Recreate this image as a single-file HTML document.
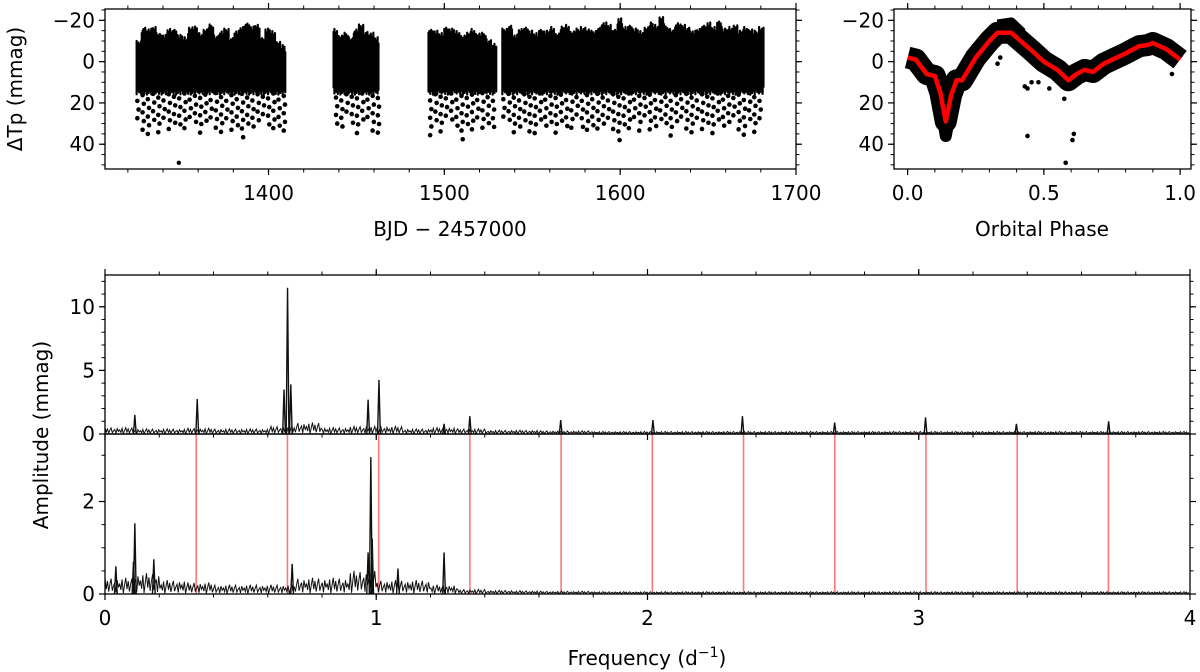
<!DOCTYPE html>
<html><head><meta charset="utf-8">
<style>
html,body{margin:0;padding:0;background:#fff;}
svg{display:block;font-family:"DejaVu Sans","Liberation Sans",sans-serif;}
</style></head>
<body>
<svg id="fig" width="1200" height="672" viewBox="0 0 1200 672" xmlns="http://www.w3.org/2000/svg"></svg>
<script>
// ---------- DATA ----------
const lcSegments = [[1325,1410],[1437,1463],[1491,1530],[1533,1682]];
const lcTops = [
 [-10,-17,-16,-17,-14,-13,-16,-16,-13,-12,-17,-17,-14,-16,-18,-13,-15,-16,-12,-15,-17,-19,-17,-18,-12,-16,-15,-10,-8],
 [-16,-13,-14,-12,-16,-18,-15,-14,-12],
 [-16,-15,-14,-17,-16,-15,-13,-14,-16,-14,-14,-11,-9],
 [-16,-18,-13,-16,-17,-15,-14,-16,-15,-17,-14,-17,-18,-15,-16,-17,-16,-15,-17,-19,-18,-16,-21,-17,-18,-16,-15,-17,-19,-18,-22,-17,-16,-19,-18,-17,-15,-16,-18,-19,-17,-20,-16,-17,-18,-15,-17,-16,-15,-17]
];
const lcBottom = [12,12,12,12];
const orbPeriod = 2.9735;
const eclipseDepth = [30,33,38,31,36,29,34,30,33,35,28,31,37,32,30,34,36,29,33,31,38,30,35,32,29,33,36,31,34,30];
const phaseX = [0,0.03,0.07,0.1,0.12,0.14,0.16,0.18,0.2,0.25,0.3,0.33,0.38,0.45,0.5,0.55,0.59,0.62,0.65,0.68,0.72,0.8,0.85,0.88,0.9,0.95,1.0];
const phaseY = [-2,-1,6,7,15,29,16,9,9,-2,-10,-14,-14,-6,0,4,9,6,4,5,1,-4,-7.5,-8,-9,-6,-1];
const phaseOutX = [0.34,0.33,0.43,0.44,0.455,0.48,0.52,0.575,0.44,0.58,0.605,0.61,0.97];
const phaseOutY = [-2,1,12,36,10,10,13,18,13,49,38,35,6];
const peakF1 = [0.11,0.34,0.66,0.673,0.685,0.97,1.01,1.25,1.345,1.68,2.02,2.35,2.69,3.025,3.36,3.70];
const peakA1 = [1.5,2.75,3.5,11.5,3.9,2.7,4.25,0.8,1.4,1.1,1.1,1.4,0.9,1.3,0.8,1.0];
const noise1 = [0.5,0.4,0.4,0.45,0.4,0.4,0.6,0.9,0.5,0.6,0.6,0.4,0.5,0.4,0.3,0.3,0.25,0.25,0.2,0.2,0.2,0.2,0.2,0.2,0.2,0.2,0.2,0.2,0.2,0.2,0.2,0.2,0.2,0.2,0.2,0.2,0.2,0.2,0.2,0.2];
const peakF2 = [0.04,0.11,0.105,0.18,0.69,0.97,0.98,0.985,1.08,1.25];
const peakA2 = [0.6,1.53,0.7,0.75,0.65,0.9,2.96,1.2,0.55,0.9];
const noise2 = [0.35,0.45,0.3,0.25,0.2,0.2,0.2,0.35,0.35,0.5,0.3,0.3,0.2,0.1,0.08,0.07,0.06,0.06,0.05,0.05,0.05,0.05,0.05,0.05,0.05,0.05,0.05,0.05,0.05,0.05,0.05,0.05,0.05,0.05,0.05,0.05,0.05,0.05,0.05,0.05];
const harmonicF = [0.3363,0.6726,1.0089,1.3452,1.6815,2.0178,2.3541,2.6904,3.0267,3.363,3.6993];
const lcTicks = [1400,1500,1600,1700];
const phTicks = ["0.0","0.5","1.0"];
const magTicks = [-20,0,20,40];
const freqTicks = [0,1,2,3,4];
const amp1Ticks = [0,5,10];
const amp2Ticks = [0,2];
const jag = [1,0.3,0.8,0.15,0.6,0.95,0.2,0.5,0.7,0.1,0.85,0.4,0.65,0.25,0.9,0.05,0.55];

// ---------- helpers ----------
const NS="http://www.w3.org/2000/svg";
const svg=document.getElementById('fig');
function mk(tag,attrs,parent){const e=document.createElementNS(NS,tag);for(const k in attrs)e.setAttribute(k,attrs[k]);(parent||svg).appendChild(e);return e;}
function txt(x,y,s,size,anchor,parent){const t=mk('text',{x:x,y:y,'font-size':size,'text-anchor':anchor||'middle',fill:'#000'},parent);t.textContent=s;return t;}

// ---------- axes ----------
const A1={l:105,r:796,t:9,b:169,x0:1307,x1:1700,y0:-25.5,y1:52};
const A2={l:894,r:1191,t:9,b:169,x0:-0.05,x1:1.04,y0:-25.5,y1:52};
const A3={l:105,r:1190,t:275,b:434,x0:0,x1:4,y0:0,y1:12.5};
const A4={l:105,r:1190,t:434,b:594,x0:0,x1:4,y0:0,y1:3.46};
function sx(a,v){return a.l+(v-a.x0)/(a.x1-a.x0)*(a.r-a.l);}
function sy(a,v){return a.b-(v-a.y0)/(a.y1-a.y0)*(a.b-a.t);}
function syInv(a,v){return a.t+(v-a.y0)/(a.y1-a.y0)*(a.b-a.t);}

// ---------- Light curve ----------
const g1=mk('g',{});


let jj=0;
lcSegments.forEach((seg,si)=>{
  const tops=lcTops[si];const n=tops.length;const w=(seg[1]-seg[0])/n;
  tops.forEach((tv,i)=>{
    for(let s=0;s<6;s++,jj++){
      const tt=seg[0]+i*w+s*w/6;
      const top=tv+4*(1-jag[jj%jag.length]);
      const bot=lcBottom[si]+4*jag[(jj+5)%jag.length];
      const r=mk('line',{x1:sx(A1,tt),x2:sx(A1,tt),y1:syInv(A1,top),y2:syInv(A1,bot),stroke:'#000','stroke-width':2.2,'stroke-linecap':'round'},g1);
      
      
    }
  });
  let k=Math.ceil((seg[0]-1325.4)/orbPeriod);
  for(let t=1325.4+k*orbPeriod;t<seg[1];t+=orbPeriod,k++){
    const d=eclipseDepth[Math.abs(k)%eclipseDepth.length];
    let q=0;
    for(let m=15+4*jag[Math.abs(k)%jag.length];m<=d;m+=4.2,q++){
      const c=mk('circle',{cx:sx(A1,t+(q%2)*0.7),cy:syInv(A1,m),r:2.3,fill:'#000'},g1);
      
      
    }
  }
});
const outl=mk('circle',{cx:sx(A1,1349),cy:syInv(A1,49),r:2.2,fill:'#000'},g1);



// ---------- Phase panel ----------
const g2=mk('g',{});


const ppts=phaseX.map((p,i)=>sx(A2,p)+','+syInv(A2,phaseY[i])).join(' ');
const band=mk('polyline',{points:ppts,fill:'none',stroke:'#000','stroke-width':22,'stroke-linejoin':'round','stroke-linecap':'butt'},g2);


mk('polyline',{points:[[0.12,20],[0.14,36],[0.16,22]].map(q=>sx(A2,q[0])+','+syInv(A2,q[1])).join(' '),fill:'none',stroke:'#000','stroke-width':12,'stroke-linejoin':'round'},g2);
mk('polyline',{points:[[0.33,-18],[0.38,-19],[0.42,-14]].map(q=>sx(A2,q[0])+','+syInv(A2,q[1])).join(' '),fill:'none',stroke:'#000','stroke-width':10,'stroke-linejoin':'round'},g2);
phaseOutX.forEach((p,i)=>{
  const c=mk('circle',{cx:sx(A2,p),cy:syInv(A2,phaseOutY[i]),r:2.3,fill:'#000'},g2);
  
  
});
const red=mk('polyline',{points:ppts,fill:'none',stroke:'#f00','stroke-width':4.5,'stroke-linejoin':'round'},g2);



// ---------- Periodograms ----------
function periodogram(a,noise,pf,pa,name){
  const g=mk('g',{});
  
  
  let pts=[];const step=0.0045;let j=0;
  for(let f=0;f<=4.0001;f+=step,j++){
    const idx=Math.min(noise.length-1,Math.floor(f/0.1));
    pts.push(sx(a,f)+','+sy(a,noise[idx]*jag[j%jag.length]));
  }
  const nl=mk('polyline',{points:pts.join(' '),fill:'none',stroke:'#111','stroke-width':1},g);
  
  
  pf.forEach((f,i)=>{
    const p=mk('polyline',{points:[sx(a,f-0.005)+','+sy(a,0),sx(a,f)+','+sy(a,pa[i]),sx(a,f+0.005)+','+sy(a,0)].join(' '),fill:'none',stroke:'#111','stroke-width':1.4},g);
    
    
  });
}
harmonicF.forEach(f=>{
  const l=mk('line',{x1:sx(A4,f),x2:sx(A4,f),y1:A4.t,y2:A4.b,stroke:'#f77','stroke-width':1.6});
  
  
});
periodogram(A3,noise1,peakF1,peakA1,'original-periodogram');
periodogram(A4,noise2,peakF2,peakA2,'residual-periodogram');

// ---------- Frames & ticks ----------
function frame(a,name){
  const r=mk('rect',{x:a.l,y:a.t,width:a.r-a.l,height:a.b-a.t,fill:'none',stroke:'#000','stroke-width':1.3});
  
  
}
function xt(a,vals,labels,minorStep,top,bottomLabels){
  vals.forEach((v,i)=>{
    const x=sx(a,v);
    mk('line',{x1:x,x2:x,y1:a.b,y2:a.b+6,stroke:'#000','stroke-width':1.2});
    if(top) mk('line',{x1:x,x2:x,y1:a.t,y2:a.t-6,stroke:'#000','stroke-width':1.2});
    if(bottomLabels){const t=txt(x,a.b+31,labels[i],20);}
  });
  for(let v=Math.ceil(a.x0/minorStep)*minorStep;v<=a.x1+1e-9;v+=minorStep){
    const x=sx(a,v);
    mk('line',{x1:x,x2:x,y1:a.b,y2:a.b+3.5,stroke:'#000','stroke-width':1});
    if(top) mk('line',{x1:x,x2:x,y1:a.t,y2:a.t-3.5,stroke:'#000','stroke-width':1});
  }
}
function yt(a,vals,minorStep,fn,lo,hi){
  vals.forEach(v=>{
    const y=fn(a,v);
    mk('line',{x1:a.l,x2:a.l-6,y1:y,y2:y,stroke:'#000','stroke-width':1.2});
    mk('line',{x1:a.r,x2:a.r+6,y1:y,y2:y,stroke:'#000','stroke-width':1.2});
    const t=txt(a.l-10,y+7,(v<0?'\u2212'+(-v):String(v)),20,'end');
    
    
  });
  for(let v=lo;v<=hi+1e-9;v+=minorStep){
    const y=fn(a,v);
    mk('line',{x1:a.l,x2:a.l-3.5,y1:y,y2:y,stroke:'#000','stroke-width':1});
    mk('line',{x1:a.r,x2:a.r+3.5,y1:y,y2:y,stroke:'#000','stroke-width':1});
  }
}
frame(A1,'light-curve-axes');frame(A2,'phase-axes');frame(A3,'original-periodogram-axes');frame(A4,'residual-periodogram-axes');
xt(A1,lcTicks,lcTicks.map(String),20,true,true);
xt(A2,[0,0.5,1],phTicks,0.1,true,true);
xt(A3,freqTicks,freqTicks.map(String),0.2,true,false);
xt(A4,freqTicks,freqTicks.map(String),0.2,false,true);
yt(A1,magTicks,5,syInv,-25,50);
yt(A2,magTicks,5,syInv,-25,50);
yt(A3,amp1Ticks,1,sy,0,12);
yt(A4,amp2Ticks,0.5,sy,0,3);

let t;
t=txt(450,236,'BJD \u2212 2457000',20);
t=txt(1042,236,'Orbital Phase',20);
t=mk('text',{x:0,y:0,'font-size':20,'text-anchor':'middle',transform:'translate(22,89) rotate(-90)'});t.textContent='\u0394Tp (mmag)';

t=mk('text',{x:0,y:0,'font-size':20,'text-anchor':'middle',transform:'translate(48,435) rotate(-90)'});t.textContent='Amplitude (mmag)';

t=mk('text',{x:647,y:665,'font-size':20,'text-anchor':'middle'});

t.innerHTML='Frequency (d<tspan dy="-8" font-size="14">\u22121</tspan><tspan dy="8">)</tspan>';
</script>
</body></html>
